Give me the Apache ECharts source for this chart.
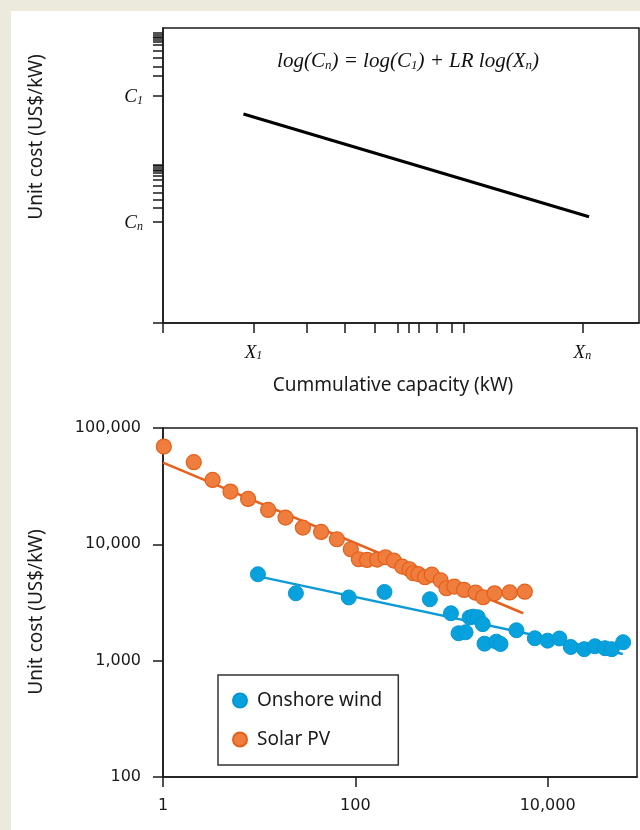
<!DOCTYPE html>
<html><head><meta charset="utf-8">
<script src="https://cdn.jsdelivr.net/npm/echarts@6/dist/echarts.min.js"></script>
<style>
html,body{margin:0;padding:0;background:#ece9dd;}
#panel{position:absolute;left:11px;top:11px;right:0;bottom:0;background:#fff;}
#chart{position:absolute;left:0;top:0;width:640px;height:830px;}
</style></head><body><div id="panel"></div><div id="chart"></div>
<script>
// ---- Top (schematic) chart, abstract log units 0..100 ----
const topXTicks = [0, 19, 30.2, 38.2, 44.4, 49.4, 51.7, 53.8, 57.5, 60.6, 63.1, 88.1];
const topXLabelVals = [19, 88.1];
const topXLabels = ['X_1', 'X_n'];
const topYTicks = [0, 34.34, 38.98, 41.69, 44.07, 46.44, 48.47, 49.93, 50.95, 51.53, 52.10, 52.64, 53.22, 53.80,
  76.95, 83.73, 86.78, 89.83, 92.31, 94.34, 95.49, 96.03, 96.61, 97.19, 97.73, 98.31];
const topYLabelVals = [76.95, 34.34];
const topYLabels = ['C_1', 'C_n'];
const curveX = [16.9, 89.5];
const curveY = [70.85, 36.03];

// ---- Bottom chart data ----
const windX = [9.71, 24.1, 85.5, 201, 596, 988, 1184, 1401, 1543, 1680, 1881, 2111, 2206, 2924, 3236, 4737, 7362, 10000, 13260, 17410, 23990, 31060, 39540, 46450, 61000];
const windY = [5533, 3797, 3495, 3896, 3373, 2556, 1720, 1754, 2352, 2389, 2361, 2060, 1400, 1457, 1392, 1826, 1558, 1486, 1552, 1311, 1256, 1330, 1279, 1256, 1440];
const solarX = [1.02, 2.09, 3.28, 5.03, 7.67, 12.4, 18.8, 28.5, 44.1, 64.3, 89.7, 108.8, 132.6, 168.7, 206.1, 251.8, 308.3, 365.9, 402, 451.3, 530.3, 625, 770.6, 886.5, 1070, 1352, 1784, 2137, 2807, 4030, 5786];
const solarY = [69200, 50800, 35800, 28400, 24570, 19760, 16970, 13920, 12780, 11060, 9075, 7445, 7343, 7387, 7745, 7243, 6431, 6107, 5642, 5543, 5213, 5488, 4912, 4194, 4329, 4054, 3843, 3509, 3797, 3858, 3920];
const windFitX = [10.1, 60550];
const windFitY = [5276, 1142];
const solarFitX = [1, 5570];
const solarFitY = [50400, 2556];
const xTickVals = [1, 100, 10000];
const yTickVals = [100, 1000, 10000, 100000];

const zip = (a, b) => a.map((v, i) => [v, b[i]]);
const AX = '#1a1a1a';
const SERIF = 'Liberation Serif';
const SANS = 'Noto Sans';
const NUM = 'DejaVu Sans';
const subLabel = (vals, labels) => (v) => {
  const i = vals.findIndex(x => Math.abs(x - v) < 0.01);
  if (i < 0) return '';
  const p = labels[i].split('_');
  return '{b|' + p[0] + '}{s|' + p[1] + '}';
};
const richSub = {
  b: {fontFamily: SERIF, fontStyle: 'italic', fontWeight: 'normal', fontSize: 19, color: '#111', lineHeight: 22, verticalAlign: 'bottom'},
  s: {fontFamily: SERIF, fontStyle: 'italic', fontWeight: 'normal', fontSize: 12, color: '#111', lineHeight: 11, verticalAlign: 'bottom'}
};
const fmtNum = v => Number(v).toLocaleString('en-US');

const chart = echarts.init(document.getElementById('chart'), null, {renderer: 'canvas'});
chart.setOption({
  animation: false,
  title: {
    left: 403, top: 43, textAlign: 'center',
    text: '{b|log(C}{s|n}{b|) = log(C}{s|1}{b|) + LR log(X}{s|n}{b|)}',
    textStyle: {
      fontWeight: 'normal',
      rich: {
        b: {fontFamily: SERIF, fontStyle: 'italic', fontWeight: 'normal', fontSize: 21, color: '#111', lineHeight: 24, verticalAlign: 'bottom'},
        s: {fontFamily: SERIF, fontStyle: 'italic', fontWeight: 'normal', fontSize: 13, color: '#111', lineHeight: 12, verticalAlign: 'bottom'}
      }
    }
  },
  graphic: [
    {type: 'text', x: 37, y: 137, rotation: Math.PI / 2,
     style: {text: 'Unit cost (US$/kW)', fontFamily: SANS, fontSize: 19, fill: '#1a1a1a', textAlign: 'center', textVerticalAlign: 'middle'}},
    {type: 'text', x: 37, y: 612, rotation: Math.PI / 2,
     style: {text: 'Unit cost (US$/kW)', fontFamily: SANS, fontSize: 19, fill: '#1a1a1a', textAlign: 'center', textVerticalAlign: 'middle'}},
    {type: 'text', x: 393, y: 386,
     style: {text: 'Cummulative capacity (kW)', fontFamily: SANS, fontSize: 19, fill: '#1a1a1a', textAlign: 'center', textVerticalAlign: 'middle'}}
  ],
  legend: {
    data: ['Onshore wind', 'Solar PV'],
    orient: 'vertical', left: 218, top: 675,
    padding: [16, 16, 16, 14], itemGap: 20,
    itemWidth: 14, itemHeight: 14, icon: 'circle',
    backgroundColor: '#fff', borderColor: '#333', borderWidth: 1.5,
    textStyle: {fontFamily: SANS, fontSize: 19, color: '#1a1a1a', padding: [0, 0, 0, 5]}
  },
  grid: [
    {left: 163, right: 1, top: 28, bottom: 507, show: true, borderColor: AX, borderWidth: 1.5, backgroundColor: 'transparent'},
    {left: 163, right: 3, top: 428, bottom: 53, show: true, borderColor: AX, borderWidth: 1.5, backgroundColor: 'transparent'}
  ],
  xAxis: [
    {gridIndex: 0, type: 'value', min: 0, max: 100,
     axisLine: {lineStyle: {color: AX, width: 1.5}},
     axisTick: {show: true, length: 10, customValues: topXTicks, lineStyle: {color: AX, width: 1.5}},
     axisLabel: {customValues: topXLabelVals, formatter: subLabel(topXLabelVals, topXLabels), margin: 17, rich: richSub},
     splitLine: {show: false}},
    {gridIndex: 1, type: 'log', min: 1, max: 85000,
     axisLine: {lineStyle: {color: AX, width: 1.5}},
     axisTick: {show: true, length: 10, customValues: xTickVals, lineStyle: {color: AX, width: 1.5}},
     axisLabel: {customValues: xTickVals, formatter: fmtNum, margin: 21, fontFamily: NUM, fontSize: 16, color: '#1a1a1a'},
     splitLine: {show: false}, minorTick: {show: false}}
  ],
  yAxis: [
    {gridIndex: 0, type: 'value', min: 0, max: 100,
     axisLine: {lineStyle: {color: AX, width: 1.5}},
     axisTick: {show: true, length: 10, customValues: topYTicks, lineStyle: {color: AX, width: 1.5}},
     axisLabel: {customValues: topYLabelVals, formatter: subLabel(topYLabelVals, topYLabels), margin: 20, rich: richSub},
     splitLine: {show: false}},
    {gridIndex: 1, type: 'log', min: 100, max: 100000,
     axisLine: {lineStyle: {color: AX, width: 1.5}},
     axisTick: {show: true, length: 10, customValues: yTickVals, lineStyle: {color: AX, width: 1.5}},
     axisLabel: {customValues: yTickVals, formatter: fmtNum, margin: 22, fontFamily: NUM, fontSize: 16, color: '#1a1a1a'},
     splitLine: {show: false}}
  ],
  series: [
    {type: 'line', xAxisIndex: 0, yAxisIndex: 0, data: zip(curveX, curveY), symbol: 'none',
     lineStyle: {color: '#000', width: 3}, silent: true},
    {name: 'Onshore wind fit', type: 'line', xAxisIndex: 1, yAxisIndex: 1, data: zip(windFitX, windFitY), symbol: 'none',
     lineStyle: {color: '#0e9ad6', width: 2.5}, z: 1},
    {name: 'Solar PV fit', type: 'line', xAxisIndex: 1, yAxisIndex: 1, data: zip(solarFitX, solarFitY), symbol: 'none',
     lineStyle: {color: '#e8601c', width: 2.5}, z: 1},
    {name: 'Onshore wind', type: 'scatter', xAxisIndex: 1, yAxisIndex: 1, data: zip(windX, windY), symbolSize: 15,
     itemStyle: {color: '#07a2de', borderColor: '#0596d2', borderWidth: 1, opacity: 1}, z: 3},
    {name: 'Solar PV', type: 'scatter', xAxisIndex: 1, yAxisIndex: 1, data: zip(solarX, solarY), symbolSize: 15,
     itemStyle: {color: '#ef7d3e', borderColor: '#e5601a', borderWidth: 1.2, opacity: 1}, z: 3}
  ]
});
</script></body></html>
